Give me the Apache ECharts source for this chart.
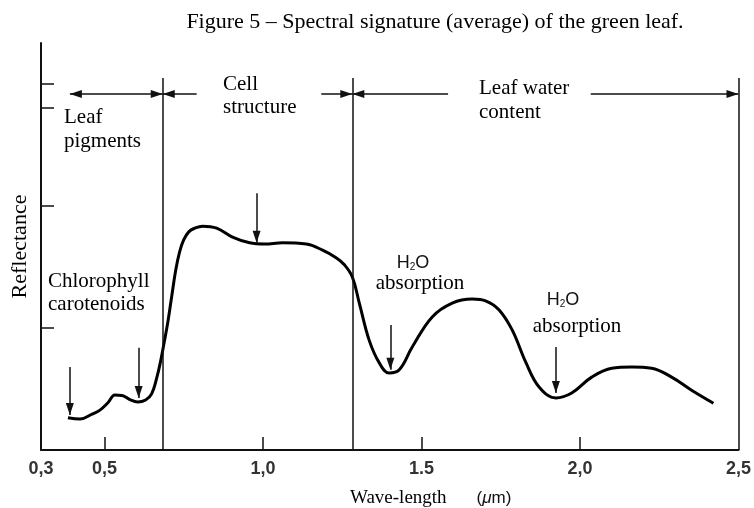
<!DOCTYPE html>
<html>
<head>
<meta charset="utf-8">
<title>Spectral signature of the green leaf</title>
<script src="https://cdn.jsdelivr.net/npm/echarts@6/dist/echarts.min.js"></script>
<style>
html,body{margin:0;padding:0;background:#fff}
#chart{width:754px;height:508px}
</style>
</head>
<body>
<div id="chart"></div>
<script>
// wave-length (um) / reflectance (relative, 0-100)
var wavelength = [0.385,0.423,0.461,0.486,0.511,0.533,0.555,0.580,0.605,0.630,0.649,0.665,0.678,0.687,0.700,0.712,0.725,0.737,0.750,0.766,0.785,0.810,0.854,0.904,0.958,1.005,1.062,1.137,1.188,1.232,1.257,1.282,1.304,1.335,1.367,1.398,1.430,1.471,1.534,1.597,1.660,1.704,1.745,1.786,1.830,1.871,1.924,1.974,2.037,2.100,2.163,2.226,2.289,2.352,2.421]
var reflectance = [7.9,7.6,8.8,9.8,11.6,13.5,13.4,12.4,11.8,12.3,13.8,17.7,22.1,25.8,31.4,37.6,44.2,48.6,51.6,53.6,54.5,55.0,54.5,52.3,50.9,50.6,50.9,50.6,49.1,47.2,45.5,42.5,36.1,27.0,21.4,18.9,19.7,25.3,32.7,36.1,37.1,36.6,34.4,29.5,21.4,15.5,12.8,14.0,17.9,20.1,20.4,20.1,17.9,14.7,11.5]

var xTickValues = [0.3, 0.5, 1.0, 1.5, 2.0, 2.5]
var xTickText = ['0,3', '0,5', '1,0', '1.5', '2,0', '2,5']
var yTickValues = [30, 60, 84, 90]

// region borders (um) and their top (reflectance units)
var regionBorders = [0.684, 1.282, 2.5]
var borderTop = 91.4
// double arrows along the top: [from, to, head at from, head at to]
var arrowRow = 87.5
var topArrows = [
	[0.391, 0.684, true, true],
	[0.684, 0.791, true, false],
	[1.184, 1.282, false, true],
	[1.282, 1.584, true, false],
	[2.034, 2.5, false, true]
]
// pointer arrows: [wave-length, start, tip]
var pointers = [
	[0.391, 20.4, 8.6],
	[0.608, 25.1, 12.8],
	[0.980, 63.1, 50.9],
	[1.402, 30.7, 19.7],
	[1.924, 25.3, 14.0]
]

var serif = '"Liberation Serif", "Times New Roman", serif'
var sans = '"Liberation Sans", Arial, sans-serif'

function head(on) {
	return on ? {symbol: 'triangle', symbolSize: [8, 12], symbolOffset: [0, '50%']} : {symbol: 'none'}
}

function buildMarkLines() {
	var out = []
	regionBorders.forEach(function (x) {
		out.push([{coord: [x, 0], symbol: 'none'}, {coord: [x, borderTop], symbol: 'none'}])
	})
	topArrows.forEach(function (a) {
		out.push([
			Object.assign({coord: [a[0], arrowRow]}, head(a[2])),
			Object.assign({coord: [a[1], arrowRow]}, head(a[3]))
		])
	})
	pointers.forEach(function (p) {
		out.push([{coord: [p[0], p[1]], symbol: 'none'}, Object.assign({coord: [p[0], p[2]]}, head(true))])
	})
	return out
}

function note(text, x, y, align, font) {
	return {
		type: 'text', x: x, y: y, silent: true,
		style: {text: text, fill: '#000', font: font || ('21px ' + serif), align: align || 'left', verticalAlign: 'middle'}
	}
}

function water(x, y) {
	return {
		type: 'text', x: x, y: y, silent: true,
		style: {
			text: '{a|H}{s|2}{a|O}', align: 'center', verticalAlign: 'middle',
			rich: {
				a: {fontFamily: sans, fontSize: 18, fill: '#111'},
				s: {fontFamily: sans, fontSize: 10, fill: '#111', verticalAlign: 'bottom'}
			}
		}
	}
}

var myChart = echarts.init(document.getElementById('chart'))
var option = {
	animation: false,
	grid: {left: 41, right: 14, top: 43, bottom: 58},
	xAxis: {
		type: 'value', min: 0.3, max: 2.5,
		splitLine: {show: false},
		axisLine: {lineStyle: {color: '#111', width: 2}},
		axisTick: {inside: true, length: 13, customValues: [0.5, 1.0, 1.5, 2.0], lineStyle: {color: '#111', width: 1.5}},
		axisLabel: {
			customValues: xTickValues, margin: 10,
			fontFamily: sans, fontSize: 18, fontWeight: 'bold', color: '#333',
			formatter: function (v) {
				var i = xTickValues.indexOf(Math.round(v * 10) / 10)
				return i < 0 ? '' : xTickText[i]
			}
		}
	},
	yAxis: {
		type: 'value', min: 0, max: 100,
		splitLine: {show: false},
		axisLine: {show: true, lineStyle: {color: '#111', width: 2}},
		axisTick: {show: true, inside: true, length: 13, customValues: yTickValues, lineStyle: {color: '#111', width: 1.5}},
		axisLabel: {show: false},
		name: 'Reflectance', nameLocation: 'middle', nameRotate: 90, nameGap: 10,
		nameTextStyle: {fontFamily: serif, fontSize: 22, color: '#000'}
	},
	series: [{
		type: 'line',
		data: wavelength.map(function (w, i) { return [w, reflectance[i]] }),
		smooth: 0.4,
		showSymbol: false,
		lineStyle: {color: '#000', width: 3},
		markLine: {
			silent: true,
			label: {show: false},
			lineStyle: {color: '#111', width: 1.5, type: 'solid'},
			emphasis: {disabled: true},
			data: buildMarkLines()
		}
	}],
	graphic: [
		note('Figure 5 \u2013 Spectral signature (average) of the green leaf.', 435, 22, 'center', '22px ' + serif),
		note('Leaf', 64, 117), note('pigments', 64, 141),
		note('Cell', 223, 84), note('structure', 223, 107),
		note('Leaf water', 479, 88), note('content', 479, 112),
		note('Chlorophyll', 48, 281), note('carotenoids', 48, 304),
		water(413, 263), note('absorption', 420, 283, 'center'),
		water(563, 300), note('absorption', 577, 326, 'center'),
		note('Wave-length', 350, 498, 'left', '19px ' + serif),
		{
			type: 'text', x: 494, y: 498, silent: true,
			style: {
				text: '({i|\u03bc}m)', align: 'center', verticalAlign: 'middle',
				font: '17px ' + sans, fill: '#111',
				rich: {i: {fontStyle: 'italic', fontFamily: sans, fontSize: 17, fill: '#111'}}
			}
		}
	]
}
myChart.setOption(option)
</script>
</body>
</html>
